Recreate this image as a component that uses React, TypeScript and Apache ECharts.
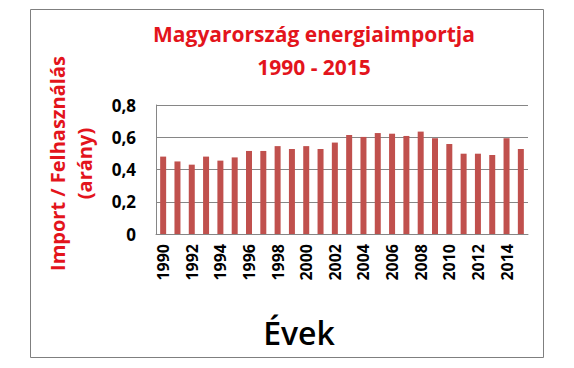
import React, { useEffect, useRef } from "react";
import * as echarts from "echarts";

const years = [
  "1990","1991","1992","1993","1994","1995","1996","1997","1998","1999",
  "2000","2001","2002","2003","2004","2005","2006","2007","2008","2009",
  "2010","2011","2012","2013","2014","2015",
];
const ratios = [
  0.48, 0.45, 0.43, 0.48, 0.455, 0.475, 0.515, 0.515, 0.545, 0.527,
  0.545, 0.527, 0.567, 0.614, 0.602, 0.626, 0.622, 0.608, 0.635, 0.594,
  0.558, 0.498, 0.498, 0.49, 0.594, 0.527,
];
const titleText = "Magyarország energiaimportja\n1990 - 2015";
const yName = "Import / Felhasználás\n(arány)";
const xName = "Évek";

const FONT = "'Open Sans', 'Noto Sans', sans-serif";
const RED = "#e3141c";

export default function App() {
  const ref = useRef<HTMLDivElement>(null);
  useEffect(() => {
    if (!ref.current) return;
    const chart = echarts.init(ref.current, null, { renderer: "svg" });
    chart.setOption({
      animation: false,
      backgroundColor: "#ffffff",
      title: {
        text: titleText,
        left: 309,
        top: 12,
        textAlign: "center",
        textStyle: {
          fontFamily: FONT,
          fontWeight: "bold",
          fontSize: 21,
          color: RED,
          lineHeight: 33,
        },
      },
      graphic: [
        {
          type: "rect",
          shape: { x: 30.5, y: 9.5, width: 513, height: 348 },
          style: { fill: "none", stroke: "#7f7f7f", lineWidth: 1 },
          silent: true,
        },
        {
          type: "text",
          x: 299,
          y: 332,
          style: {
            text: xName,
            fontFamily: FONT,
            fontWeight: 600,
            fontSize: 32,
            fill: "#000000",
            textAlign: "center",
            textVerticalAlign: "middle",
          },
        },
      ],
      grid: { left: 156, top: 105, right: 46, bottom: 134 },
      xAxis: {
        type: "category",
        data: years,
        axisLine: { show: true, lineStyle: { color: "#868686" } },
        axisTick: { show: false },
        axisLabel: {
          rotate: 90,
          interval: 1,
          margin: 10,
          fontFamily: FONT,
          fontWeight: "bold",
          fontSize: 16,
          color: "#000000",
        },
      },
      yAxis: {
        type: "value",
        min: 0,
        max: 0.8,
        interval: 0.2,
        name: yName,
        nameLocation: "middle",
        nameGap: 58,
        nameTextStyle: {
          fontFamily: FONT,
          fontWeight: "bold",
          fontSize: 20,
          color: RED,
          lineHeight: 27,
          padding: [0, 0, 0, 12],
        },
        axisLine: { show: true, lineStyle: { color: "#868686" } },
        axisTick: { show: false },
        splitLine: { show: true, lineStyle: { color: "#868686" } },
        axisLabel: {
          margin: 20,
          fontFamily: FONT,
          fontWeight: "bold",
          fontSize: 17,
          color: "#000000",
          formatter: (v: number) => (v === 0 ? "0" : v.toFixed(1).replace(".", ",")),
        },
      },
      series: [
        {
          type: "bar",
          data: ratios,
          barWidth: 6,
          itemStyle: { color: "#c0504d" },
        },
      ],
    });
    return () => chart.dispose();
  }, []);
  return (
    <div
      ref={ref}
      style={{ position: "fixed", left: 0, top: 0, width: 574, height: 368 }}
    />
  );
}
